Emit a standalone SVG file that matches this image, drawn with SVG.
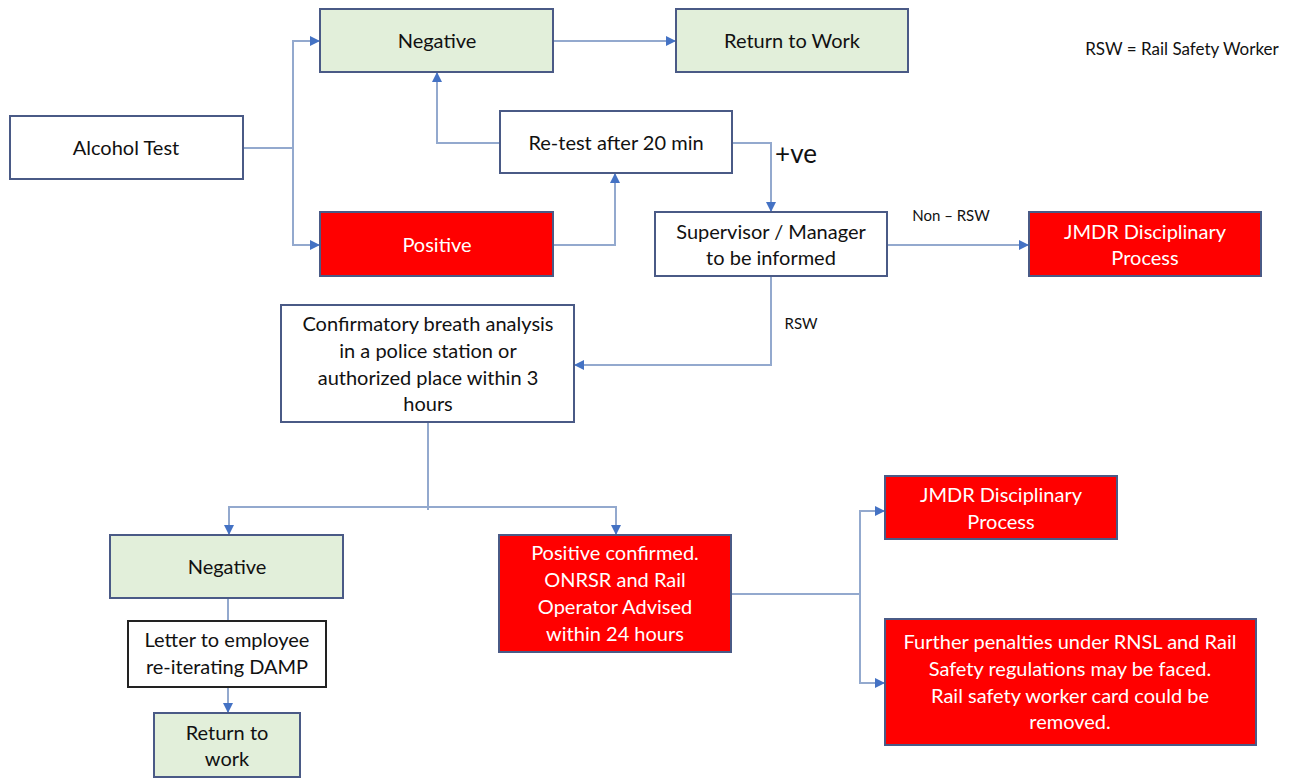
<svg xmlns="http://www.w3.org/2000/svg" width="1294" height="778" viewBox="0 0 1294 778">
<style>
.box{stroke:#4A5A86;stroke-width:2}
.w{fill:#FFFFFF}
.g{fill:#E2EFDA}
.r{fill:#FF0000}
.blk{fill:#FFFFFF;stroke:#222222;stroke-width:2}
text{font-family:Lato,"Open Sans","Liberation Sans",sans-serif;font-size:20px;text-anchor:middle;fill:#111111}
.wt{fill:#FFFFFF}
.lbl{font-size:15px}
.conn{fill:none;stroke:#93A9CE;stroke-width:2}
</style>
<defs>
<marker id="ah" viewBox="0 0 10 10" refX="9" refY="5" markerWidth="10" markerHeight="10" markerUnits="userSpaceOnUse" orient="auto">
<path d="M0,0 L10,5 L0,10 z" fill="#4472C4"/>
</marker>
</defs>
<g id="connectors">
<path class="conn" d="M243,148 H293 V41 H319" marker-end="url(#ah)"/>
<path class="conn" d="M293,148 V245 H319" marker-end="url(#ah)"/>
<path class="conn" d="M553,41 H675" marker-end="url(#ah)"/>
<path class="conn" d="M500,143 H437 V73" marker-end="url(#ah)"/>
<path class="conn" d="M553,245 H615 V174" marker-end="url(#ah)"/>
<path class="conn" d="M732,143 H771 V211" marker-end="url(#ah)"/>
<path class="conn" d="M887,245 H1028" marker-end="url(#ah)"/>
<path class="conn" d="M771,276 V365 H575" marker-end="url(#ah)"/>
<path class="conn" d="M428,422 V510"/>
<path class="conn" d="M428,507 H229 V534" marker-end="url(#ah)"/>
<path class="conn" d="M428,507 H616 V534" marker-end="url(#ah)"/>
<path class="conn" d="M228,598 V621"/>
<path class="conn" d="M228,687 V712" marker-end="url(#ah)"/>
<path class="conn" d="M731,594 H860 V511 H884" marker-end="url(#ah)"/>
<path class="conn" d="M860,594 V683 H884" marker-end="url(#ah)"/>
<text x="796" y="163" style="font-size:26px">+ve</text>
<text class="lbl" x="951" y="221">Non – RSW</text>
<text class="lbl" x="801" y="329">RSW</text>
</g>
<g id="alcohol-test">
<rect class="box w" x="10" y="116" width="233" height="63"/>
<text x="126" y="155">Alcohol Test</text>
</g>
<g id="negative-top">
<rect class="box g" x="320" y="9" width="233" height="63"/>
<text x="437" y="48">Negative</text>
</g>
<g id="return-to-work-top">
<rect class="box g" x="676" y="9" width="232" height="63"/>
<text x="792" y="48">Return to Work</text>
</g>
<g id="positive">
<rect class="box r" x="320" y="212" width="233" height="64"/>
<text class="wt" x="437" y="252">Positive</text>
</g>
<g id="retest">
<rect class="box w" x="500" y="111" width="232" height="62"/>
<text x="616" y="150">Re-test after 20 min</text>
</g>
<g id="supervisor">
<rect class="box w" x="655" y="212" width="232" height="64"/>
<text x="771" y="239">Supervisor / Manager</text>
<text x="771" y="265">to be informed</text>
</g>
<g id="jmdr-top">
<rect class="box r" x="1029" y="212" width="232" height="64"/>
<text class="wt" x="1145" y="239">JMDR Disciplinary</text>
<text class="wt" x="1145" y="265">Process</text>
</g>
<g id="legend">
<text x="1182" y="55" style="font-size:17px">RSW = Rail Safety Worker</text>
</g>
<g id="confirmatory">
<rect class="box w" x="281" y="305" width="293" height="117"/>
<text x="428" y="331">Confirmatory breath analysis</text>
<text x="428" y="358">in a police station or</text>
<text x="428" y="385">authorized place within 3</text>
<text x="428" y="411">hours</text>
</g>
<g id="negative-bottom">
<rect class="box g" x="110" y="535" width="233" height="63"/>
<text x="227" y="574">Negative</text>
</g>
<g id="positive-confirmed">
<rect class="box r" x="499" y="535" width="232" height="117"/>
<text class="wt" x="615" y="560">Positive confirmed.</text>
<text class="wt" x="615" y="587">ONRSR and Rail</text>
<text class="wt" x="615" y="614">Operator Advised</text>
<text class="wt" x="615" y="641">within 24 hours</text>
</g>
<g id="letter">
<rect class="blk" x="128" y="621" width="198" height="66"/>
<text x="227" y="647">Letter to employee</text>
<text x="227" y="674">re-iterating DAMP</text>
</g>
<g id="return-to-work-bottom">
<rect class="box g" x="154" y="713" width="146" height="64"/>
<text x="227" y="740">Return to</text>
<text x="227" y="766">work</text>
</g>
<g id="jmdr-bottom">
<rect class="box r" x="885" y="476" width="232" height="63"/>
<text class="wt" x="1001" y="502">JMDR Disciplinary</text>
<text class="wt" x="1001" y="529">Process</text>
</g>
<g id="further-penalties">
<rect class="box r" x="885" y="619" width="371" height="126"/>
<text class="wt" x="1070" y="649">Further penalties under RNSL and Rail</text>
<text class="wt" x="1070" y="676">Safety regulations may be faced.</text>
<text class="wt" x="1070" y="703">Rail safety worker card could be</text>
<text class="wt" x="1070" y="729">removed.</text>
</g>
</svg>
